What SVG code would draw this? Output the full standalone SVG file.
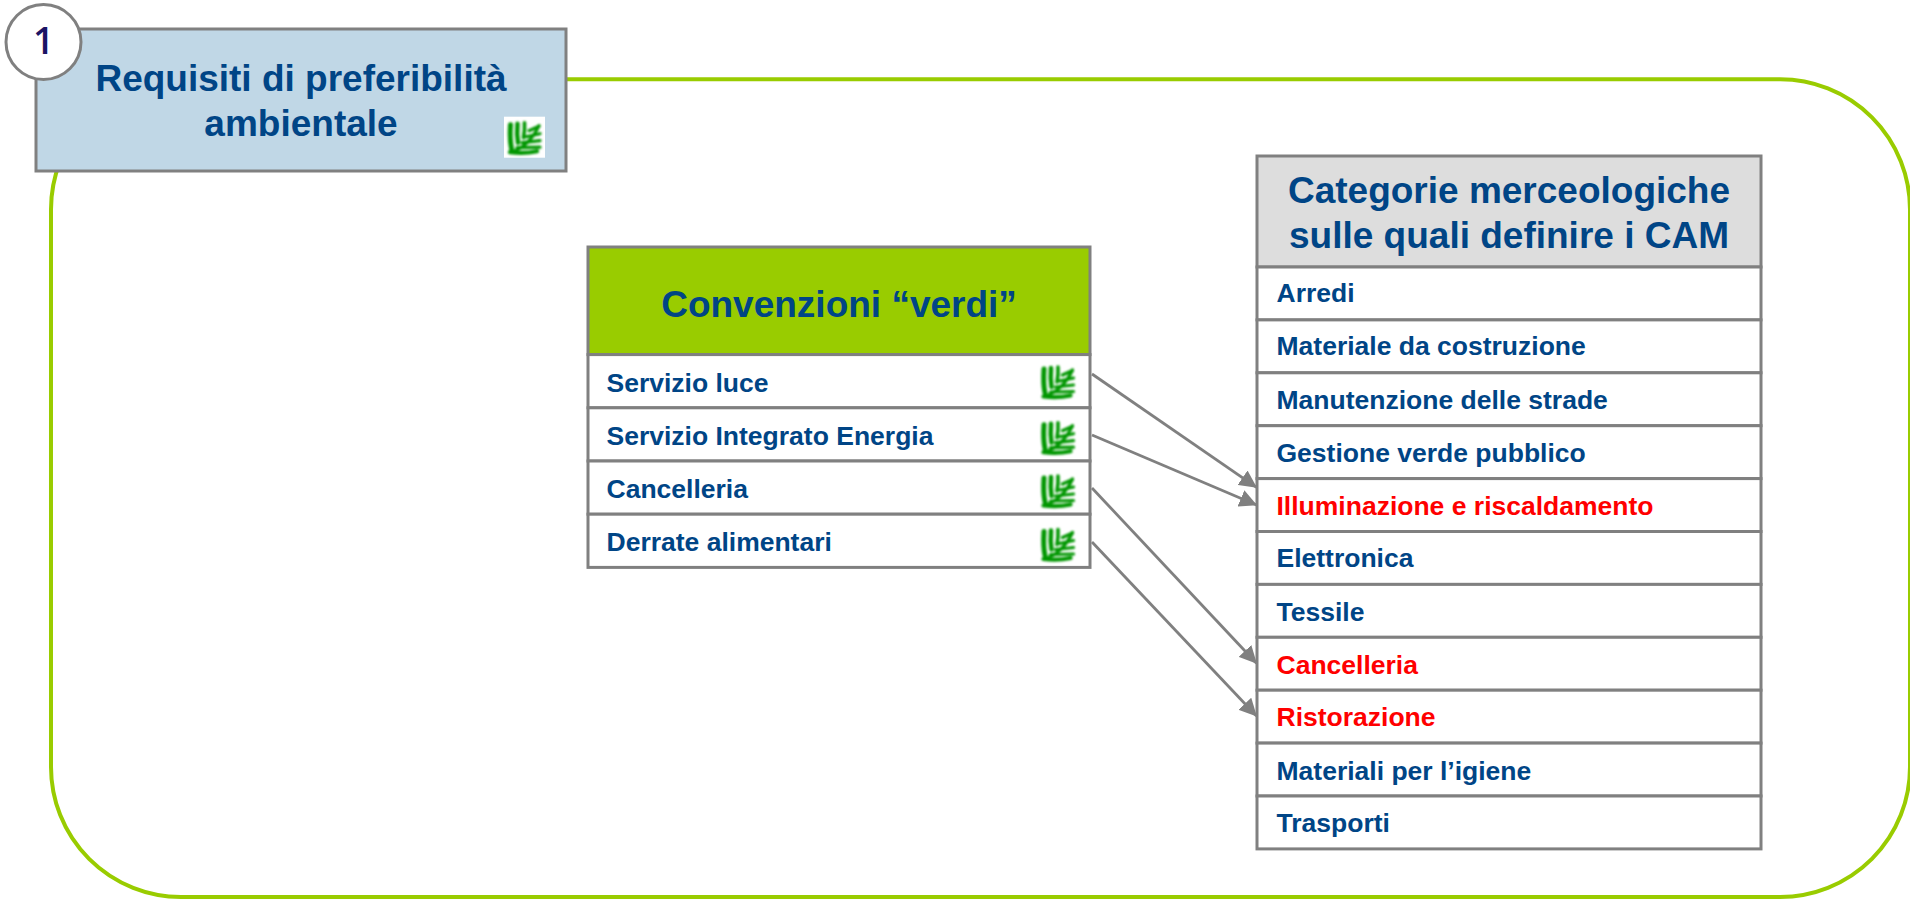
<svg xmlns="http://www.w3.org/2000/svg" width="1910" height="899" viewBox="0 0 1910 899">
<style>
text{font-family:"Liberation Sans",Arial,sans-serif;font-weight:700;fill:#004586}
.h{font-size:37px;text-anchor:middle}
.r{font-size:26.5px}
.red{fill:#FF0000}
.cell{fill:#fff;stroke:#808080;stroke-width:3}
.c{fill:none;stroke:#808080;stroke-width:2.8;marker-end:url(#arr)}
</style>
<defs>
<marker id="arr" viewBox="0 0 15 15" refX="14.5" refY="7.5" markerUnits="userSpaceOnUse" markerWidth="17.5" markerHeight="17.5" orient="auto"><path d="M0 0L15 7.5L0 15Z" fill="#808080"/></marker>
<filter id="soft" x="-15%" y="-15%" width="130%" height="130%"><feGaussianBlur stdDeviation="1"/></filter>
<symbol id="leaf" viewBox="0 0 41 41" overflow="visible">
<g fill="none" stroke="#069606" stroke-linecap="round" filter="url(#soft)">
<path d="M6.500 8C6 16 6 25 7.500 32" stroke-width="5"/>
<path d="M13.500 7C13 13 13 20 14 26" stroke-width="4.500"/>
<path d="M20.500 6C20.800 11 20.500 16 19.500 21" stroke-width="3.600"/>
<path d="M7 35C18 33 29 22 35 9" stroke-width="3.200"/>
<path d="M25 14L35 9.500" stroke-width="3.200"/>
<path d="M22 20L36 17" stroke-width="3.200"/>
<path d="M18 26L36 24" stroke-width="3.200"/>
<path d="M13 31L36 30.500" stroke-width="3.200"/>
<path d="M6 35.500C14 36.500 24 36.500 33 34.500" stroke-width="4.200"/>
</g>
</symbol>
</defs>
<rect width="1910" height="899" fill="#fff"/>
<rect id="frame" x="51" y="79.300" width="1859" height="817.700" rx="130" ry="130" fill="none" stroke="#99CC00" stroke-width="4"/>
<g id="title-node">
<rect x="36" y="29" width="530" height="142" fill="#C0D7E6" stroke="#808080" stroke-width="3"/>
<text class="h" x="301" y="91">Requisiti di preferibilità</text>
<text class="h" x="301" y="136">ambientale</text>
<rect x="504" y="116.700" width="41" height="41" fill="#fff"/>
<use href="#leaf" x="504" y="116.700" width="41" height="41"/>
</g>
<g id="badge">
<circle cx="43.500" cy="42" r="37.500" fill="#fff" stroke="#808080" stroke-width="3"/>
<text x="43.500" y="54.300" text-anchor="middle" style="font-family:'Open Sans',sans-serif;font-weight:600;font-size:37px;fill:#1B1464">1</text>
</g>
<g id="convenzioni">
<g id="conv-header"><rect x="588" y="247" width="502" height="107.600" fill="#99CC00" stroke="#808080" stroke-width="3"/><text class="h" x="839" y="317">Convenzioni “verdi”</text></g>
<g id="conv-1"><rect class="cell" x="588" y="354.600" width="502" height="53.200"/><text class="r" x="606.500" y="392">Servizio luce</text><use href="#leaf" x="1037.500" y="361" width="41" height="41"/></g>
<g id="conv-2"><rect class="cell" x="588" y="407.800" width="502" height="53.200"/><text class="r" x="606.500" y="444.500">Servizio Integrato Energia</text><use href="#leaf" x="1037.500" y="416.700" width="41" height="41"/></g>
<g id="conv-3"><rect class="cell" x="588" y="461" width="502" height="53.200"/><text class="r" x="606.500" y="498">Cancelleria</text><use href="#leaf" x="1037.500" y="470" width="41" height="41"/></g>
<g id="conv-4"><rect class="cell" x="588" y="514.200" width="502" height="53.200"/><text class="r" x="606.500" y="551">Derrate alimentari</text><use href="#leaf" x="1037.500" y="523.500" width="41" height="41"/></g>
</g>
<g id="categorie">
<g id="cat-header"><rect x="1257" y="156" width="504" height="111" fill="#DDDDDD" stroke="#808080" stroke-width="3"/><text class="h" x="1509" y="203">Categorie merceologiche</text><text class="h" x="1509" y="248">sulle quali definire i CAM</text></g>
<g id="cat-1"><rect class="cell" x="1257" y="267" width="504" height="52.900"/><text class="r" x="1276.500" y="302">Arredi</text></g>
<g id="cat-2"><rect class="cell" x="1257" y="319.900" width="504" height="52.900"/><text class="r" x="1276.500" y="355">Materiale da costruzione</text></g>
<g id="cat-3"><rect class="cell" x="1257" y="372.800" width="504" height="52.900"/><text class="r" x="1276.500" y="408.500">Manutenzione delle strade</text></g>
<g id="cat-4"><rect class="cell" x="1257" y="425.700" width="504" height="52.900"/><text class="r" x="1276.500" y="462">Gestione verde pubblico</text></g>
<g id="cat-5"><rect class="cell" x="1257" y="478.600" width="504" height="52.900"/><text class="r red" x="1276.500" y="514.500">Illuminazione e riscaldamento</text></g>
<g id="cat-6"><rect class="cell" x="1257" y="531.500" width="504" height="52.900"/><text class="r" x="1276.500" y="567">Elettronica</text></g>
<g id="cat-7"><rect class="cell" x="1257" y="584.400" width="504" height="52.900"/><text class="r" x="1276.500" y="621">Tessile</text></g>
<g id="cat-8"><rect class="cell" x="1257" y="637.300" width="504" height="52.900"/><text class="r red" x="1276.500" y="674">Cancelleria</text></g>
<g id="cat-9"><rect class="cell" x="1257" y="690.200" width="504" height="52.900"/><text class="r red" x="1276.500" y="726">Ristorazione</text></g>
<g id="cat-10"><rect class="cell" x="1257" y="743.100" width="504" height="52.900"/><text class="r" x="1276.500" y="780">Materiali per l’igiene</text></g>
<g id="cat-11"><rect class="cell" x="1257" y="796" width="504" height="52.900"/><text class="r" x="1276.500" y="832">Trasporti</text></g>
</g>
<g id="connectors">
<line class="c" x1="1092" y1="374" x2="1256.500" y2="487.300"/>
<line class="c" x1="1092" y1="435" x2="1256.500" y2="505"/>
<line class="c" x1="1092" y1="488" x2="1256.500" y2="663.300"/>
<line class="c" x1="1092" y1="542" x2="1256.500" y2="716"/>
</g>
</svg>
